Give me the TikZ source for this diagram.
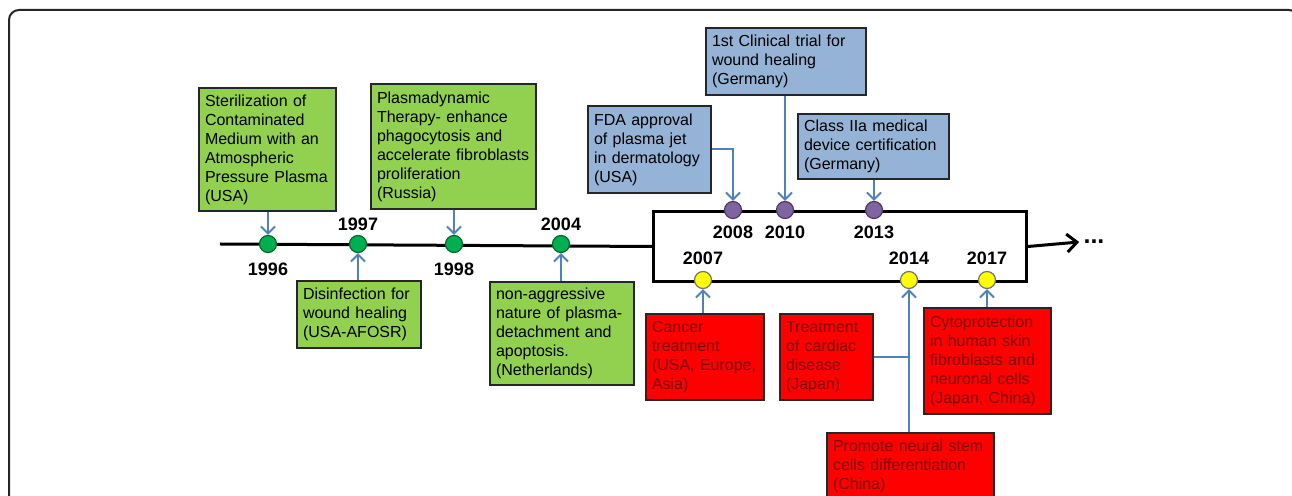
\documentclass[tikz,border=0pt]{standalone}
\usepackage{fontspec}
\setmainfont{Liberation Sans}
\usepackage{xcolor}
\usetikzlibrary{arrows.meta,positioning}

\definecolor{boxgreen}{HTML}{92D050}
\definecolor{boxblue}{HTML}{95B3D7}
\definecolor{boxred}{HTML}{FF0000}
\definecolor{txtred}{HTML}{7A0000}
\definecolor{dotgreen}{HTML}{00B050}
\definecolor{dotpurple}{HTML}{8064A2}
\definecolor{dotyellow}{HTML}{FFFF00}
\definecolor{linkblue}{HTML}{4F81BD}

\begin{document}
\begin{tikzpicture}[x=0.5pt,y=-0.5pt,
    link/.style={draw=linkblue,line width=1pt,-{Straight Barb[length=3.5pt,width=7pt]}}]
    \tikzstyle{event}=[draw=black!85,line width=1pt,anchor=north west,align=left,
      inner xsep=3pt,inner ysep=2.5pt,font=\fontsize{8}{9.5}\selectfont]
    \tikzstyle{dot}=[circle,inner sep=0pt,minimum size=8.5pt,line width=0.6pt]
    \tikzstyle{year}=[inner sep=1pt,font=\fontsize{9}{10}\selectfont\bfseries]

    \useasboundingbox (0,0) rectangle (1292,496);
    \clip (0,0) rectangle (1292,496);
    \draw[line width=1pt,black!85,rounded corners=5pt] (9,10) rectangle (1299,540);

    % time line
    \coordinate (start) at (220,244);
    \node[draw,line width=1.5pt,anchor=north west,minimum width=186.5pt,
      minimum height=35pt,inner sep=0pt] (span) at (652,210) {};
    \node[inner sep=2pt,font=\fontsize{12.5}{13}\selectfont\bfseries] (more) at (1094,242) {...};
    \draw[line width=1.5pt] (start) -- (span.west);
    \draw[line width=1.5pt,-{Straight Barb[length=5pt,width=9pt]}] (span.east) -- (more.west);

    % dots
    \node[dot,fill=dotgreen,draw=dotgreen!60!black]    (d1996) at (268,244) {};
    \node[dot,fill=dotgreen,draw=dotgreen!60!black]    (d1997) at (358,244) {};
    \node[dot,fill=dotgreen,draw=dotgreen!60!black]    (d1998) at (454,244) {};
    \node[dot,fill=dotgreen,draw=dotgreen!60!black]    (d2004) at (561,244) {};
    \node[dot,fill=dotpurple,draw=dotpurple!60!black]  (d2008) at (733,210) {};
    \node[dot,fill=dotpurple,draw=dotpurple!60!black]  (d2010) at (785,210) {};
    \node[dot,fill=dotpurple,draw=dotpurple!60!black]  (d2013) at (874,210) {};
    \node[dot,fill=dotyellow,draw=black!55]            (d2007) at (703,280) {};
    \node[dot,fill=dotyellow,draw=black!55]            (d2014) at (909,280) {};
    \node[dot,fill=dotyellow,draw=black!55]            (d2017) at (987,280) {};

    % years
    \node[year] (y1996) [below=3.5pt of d1996] {1996};
    \node[year] (y1997) [above=1pt of d1997]   {1997};
    \node[year] (y1998) [below=3.5pt of d1998] {1998};
    \node[year] (y2004) [above=1pt of d2004]   {2004};
    \node[year] (y2008) [below=2pt of d2008]   {2008};
    \node[year] (y2010) [below=2pt of d2010]   {2010};
    \node[year] (y2013) [below=2pt of d2013]   {2013};
    \node[year] (y2007) [above=2pt of d2007]   {2007};
    \node[year] (y2014) [above=2pt of d2014]   {2014};
    \node[year] (y2017) [above=2pt of d2017]   {2017};

    % events
    \node[event,fill=boxgreen,text width=62.5pt,minimum height=61.5pt] (g1996) at (198,87)
      {Sterilization of\\Contaminated\\Medium with an\\Atmospheric\\Pressure Plasma\\(USA)};
    \node[event,fill=boxgreen,text width=76.5pt,minimum height=62.5pt] (g1998) at (370,83)
      {Plasmadynamic\\Therapy- enhance\\phagocytosis and\\accelerate fibroblasts\\proliferation\\(Russia)};
    \node[event,fill=boxgreen,text width=56pt,minimum height=33.5pt]   (g1997) at (296,280)
      {Disinfection for\\wound healing\\(USA-AFOSR)};
    \node[event,fill=boxgreen,text width=66pt,minimum height=51.5pt]   (g2004) at (489,281)
      {non-aggressive\\nature of plasma-\\detachment and\\apoptosis.\\(Netherlands)};
    \node[event,fill=boxblue,text width=55.5pt,minimum height=43.5pt]  (b2008) at (587,105)
      {FDA approval\\of plasma jet\\in dermatology\\(USA)};
    \node[event,fill=boxblue,text width=74pt,minimum height=33.5pt]    (b2010) at (705,27)
      {1st Clinical trial for\\wound healing\\(Germany)};
    \node[event,fill=boxblue,text width=69.5pt,minimum height=32.5pt]  (b2013) at (797,113)
      {Class IIa medical\\device certification\\(Germany)};
    \node[event,fill=boxred,text=txtred,text width=53pt,minimum height=43pt]   (r2007) at (645,313)
      {Cancer\\treatment\\(USA, Europe,\\Asia)};
    \node[event,fill=boxred,text=txtred,text width=40.5pt,minimum height=43pt] (r2014) at (779,313)
      {Treatment\\of cardiac\\disease\\(Japan)};
    \node[event,fill=boxred,text=txtred,text width=57.5pt,minimum height=53pt] (r2017) at (923,307)
      {Cytoprotection\\in human skin\\fibroblasts and\\neuronal cells\\(Japan, China)};
    \node[event,fill=boxred,text=txtred,text width=77.5pt,inner ysep=3.5pt] (r2014b) at (826,432)
      {Promote neural stem\\cells differentiation\\(China)};

    % links
    \draw[link] (d1996 |- g1996.south) -- (d1996);
    \draw[link] (d1998 |- g1998.south) -- (d1998);
    \draw[link] (d1997 |- g1997.north) -- (d1997);
    \draw[link] (d2004 |- g2004.north) -- (d2004);
    \draw[link] (b2008.east) -| (d2008);
    \draw[link] (d2010 |- b2010.south) -- (d2010);
    \draw[link] (d2013 |- b2013.south) -- (d2013);
    \draw[link] (d2007 |- r2007.north) -- (d2007);
    \draw[link] (d2017 |- r2017.north) -- (d2017);
    \draw[link] (d2014 |- r2014b.north) -- (d2014);
    \draw[draw=linkblue,line width=1pt] (r2014.east) -- (r2014.east -| d2014);
\end{tikzpicture}
\end{document}
